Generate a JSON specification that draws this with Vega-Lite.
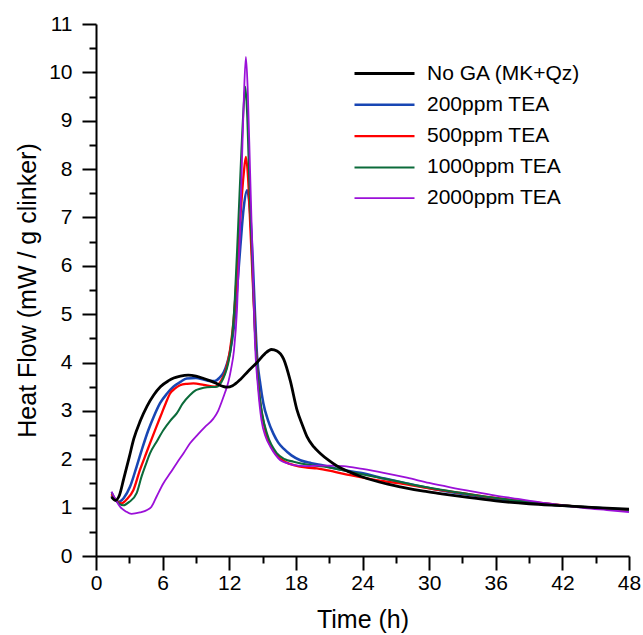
{
  "$schema": "https://vega.github.io/schema/vega-lite/v6.json",
  "autosize": "none",
  "padding": {"left": 96, "top": 24, "right": 14, "bottom": 79},
  "width": 533,
  "height": 532,
  "background": "white",
  "config": {
    "font": "Liberation Sans",
    "view": {"stroke": null},
    "axis": {"domainColor": "black", "domainWidth": 2, "tickColor": "black", "tickWidth": 2, "labelColor": "black", "titleColor": "black", "labelFont": "Liberation Sans", "titleFont": "Liberation Sans", "labelFontSize": 21, "titleFontSize": 25, "titleFontWeight": "normal", "grid": false}
  },
  "data": {"values": [
    {"s":"200ppm TEA","t":1.4,"v":1.25},{"s":"200ppm TEA","t":2.0,"v":1.12},{"s":"200ppm TEA","t":2.5,"v":1.2},{"s":"200ppm TEA","t":3.06,"v":1.43},{"s":"200ppm TEA","t":3.66,"v":1.85},{"s":"200ppm TEA","t":4.2,"v":2.25},{"s":"200ppm TEA","t":4.71,"v":2.6},{"s":"200ppm TEA","t":5.2,"v":2.88},{"s":"200ppm TEA","t":5.77,"v":3.16},{"s":"200ppm TEA","t":6.4,"v":3.36},{"s":"200ppm TEA","t":6.97,"v":3.5},{"s":"200ppm TEA","t":7.6,"v":3.6},{"s":"200ppm TEA","t":8.17,"v":3.67},{"s":"200ppm TEA","t":9.0,"v":3.68},{"s":"200ppm TEA","t":9.67,"v":3.65},{"s":"200ppm TEA","t":10.2,"v":3.62},{"s":"200ppm TEA","t":10.7,"v":3.62},{"s":"200ppm TEA","t":11.1,"v":3.68},{"s":"200ppm TEA","t":11.5,"v":3.8},{"s":"200ppm TEA","t":11.8,"v":3.98},{"s":"200ppm TEA","t":12.07,"v":4.22},{"s":"200ppm TEA","t":12.4,"v":4.7},{"s":"200ppm TEA","t":12.7,"v":5.5},{"s":"200ppm TEA","t":13.0,"v":6.4},{"s":"200ppm TEA","t":13.3,"v":7.2},{"s":"200ppm TEA","t":13.6,"v":7.56},{"s":"200ppm TEA","t":13.85,"v":7.2},{"s":"200ppm TEA","t":14.1,"v":6.2},{"s":"200ppm TEA","t":14.3,"v":5.1},{"s":"200ppm TEA","t":14.5,"v":4.15},{"s":"200ppm TEA","t":14.8,"v":3.55},{"s":"200ppm TEA","t":15.07,"v":3.16},{"s":"200ppm TEA","t":15.5,"v":2.8},{"s":"200ppm TEA","t":15.97,"v":2.53},{"s":"200ppm TEA","t":16.4,"v":2.35},{"s":"200ppm TEA","t":16.9,"v":2.22},{"s":"200ppm TEA","t":17.6,"v":2.08},{"s":"200ppm TEA","t":18.4,"v":1.98},{"s":"200ppm TEA","t":19.4,"v":1.92},{"s":"200ppm TEA","t":20.5,"v":1.87},{"s":"200ppm TEA","t":22.0,"v":1.79},{"s":"200ppm TEA","t":23.8,"v":1.72},{"s":"200ppm TEA","t":26.0,"v":1.6},{"s":"200ppm TEA","t":28.0,"v":1.5},{"s":"200ppm TEA","t":31.0,"v":1.36},{"s":"200ppm TEA","t":34.0,"v":1.25},{"s":"200ppm TEA","t":37.0,"v":1.15},{"s":"200ppm TEA","t":40.0,"v":1.08},{"s":"200ppm TEA","t":44.0,"v":1.01},{"s":"200ppm TEA","t":48.0,"v":0.96},

    {"s":"500ppm TEA","t":1.4,"v":1.28},{"s":"500ppm TEA","t":1.8,"v":1.15},{"s":"500ppm TEA","t":2.3,"v":1.09},{"s":"500ppm TEA","t":2.8,"v":1.18},{"s":"500ppm TEA","t":3.36,"v":1.36},{"s":"500ppm TEA","t":3.96,"v":1.78},{"s":"500ppm TEA","t":4.4,"v":2.05},{"s":"500ppm TEA","t":4.86,"v":2.33},{"s":"500ppm TEA","t":5.4,"v":2.65},{"s":"500ppm TEA","t":5.92,"v":2.95},{"s":"500ppm TEA","t":6.3,"v":3.17},{"s":"500ppm TEA","t":6.67,"v":3.36},{"s":"500ppm TEA","t":7.1,"v":3.46},{"s":"500ppm TEA","t":7.57,"v":3.53},{"s":"500ppm TEA","t":8.2,"v":3.56},{"s":"500ppm TEA","t":8.77,"v":3.57},{"s":"500ppm TEA","t":9.7,"v":3.54},{"s":"500ppm TEA","t":10.7,"v":3.5},{"s":"500ppm TEA","t":11.3,"v":3.64},{"s":"500ppm TEA","t":11.7,"v":3.85},{"s":"500ppm TEA","t":12.07,"v":4.26},{"s":"500ppm TEA","t":12.4,"v":4.9},{"s":"500ppm TEA","t":12.7,"v":5.9},{"s":"500ppm TEA","t":13.0,"v":7.0},{"s":"500ppm TEA","t":13.3,"v":7.9},{"s":"500ppm TEA","t":13.5,"v":8.25},{"s":"500ppm TEA","t":13.7,"v":7.8},{"s":"500ppm TEA","t":13.9,"v":6.8},{"s":"500ppm TEA","t":14.15,"v":5.5},{"s":"500ppm TEA","t":14.4,"v":4.3},{"s":"500ppm TEA","t":14.77,"v":3.2},{"s":"500ppm TEA","t":15.1,"v":2.75},{"s":"500ppm TEA","t":15.5,"v":2.4},{"s":"500ppm TEA","t":16.0,"v":2.18},{"s":"500ppm TEA","t":16.4,"v":2.05},{"s":"500ppm TEA","t":17.1,"v":1.94},{"s":"500ppm TEA","t":17.8,"v":1.88},{"s":"500ppm TEA","t":19.0,"v":1.83},{"s":"500ppm TEA","t":19.9,"v":1.81},{"s":"500ppm TEA","t":21.5,"v":1.74},{"s":"500ppm TEA","t":22.9,"v":1.67},{"s":"500ppm TEA","t":25.0,"v":1.58},{"s":"500ppm TEA","t":27.4,"v":1.5},{"s":"500ppm TEA","t":30.0,"v":1.4},{"s":"500ppm TEA","t":33.0,"v":1.3},{"s":"500ppm TEA","t":36.0,"v":1.2},{"s":"500ppm TEA","t":40.0,"v":1.1},{"s":"500ppm TEA","t":44.0,"v":1.01},{"s":"500ppm TEA","t":48.0,"v":0.95},

    {"s":"1000ppm TEA","t":1.4,"v":1.32},{"s":"1000ppm TEA","t":1.8,"v":1.15},{"s":"1000ppm TEA","t":2.46,"v":1.05},{"s":"1000ppm TEA","t":3.0,"v":1.12},{"s":"1000ppm TEA","t":3.66,"v":1.3},{"s":"1000ppm TEA","t":4.1,"v":1.64},{"s":"1000ppm TEA","t":4.5,"v":1.9},{"s":"1000ppm TEA","t":4.86,"v":2.12},{"s":"1000ppm TEA","t":5.5,"v":2.38},{"s":"1000ppm TEA","t":6.06,"v":2.6},{"s":"1000ppm TEA","t":6.7,"v":2.8},{"s":"1000ppm TEA","t":7.27,"v":2.95},{"s":"1000ppm TEA","t":7.8,"v":3.15},{"s":"1000ppm TEA","t":8.47,"v":3.33},{"s":"1000ppm TEA","t":9.0,"v":3.43},{"s":"1000ppm TEA","t":9.37,"v":3.46},{"s":"1000ppm TEA","t":10.0,"v":3.49},{"s":"1000ppm TEA","t":10.87,"v":3.5},{"s":"1000ppm TEA","t":11.3,"v":3.6},{"s":"1000ppm TEA","t":11.6,"v":3.75},{"s":"1000ppm TEA","t":11.9,"v":3.98},{"s":"1000ppm TEA","t":12.2,"v":4.4},{"s":"1000ppm TEA","t":12.5,"v":5.3},{"s":"1000ppm TEA","t":12.8,"v":6.8},{"s":"1000ppm TEA","t":13.1,"v":8.4},{"s":"1000ppm TEA","t":13.3,"v":9.3},{"s":"1000ppm TEA","t":13.45,"v":9.7},{"s":"1000ppm TEA","t":13.6,"v":9.2},{"s":"1000ppm TEA","t":13.8,"v":7.8},{"s":"1000ppm TEA","t":14.05,"v":6.2},{"s":"1000ppm TEA","t":14.3,"v":4.7},{"s":"1000ppm TEA","t":14.6,"v":3.6},{"s":"1000ppm TEA","t":15.0,"v":2.9},{"s":"1000ppm TEA","t":15.4,"v":2.53},{"s":"1000ppm TEA","t":16.3,"v":2.12},{"s":"1000ppm TEA","t":17.0,"v":2.0},{"s":"1000ppm TEA","t":17.8,"v":1.95},{"s":"1000ppm TEA","t":19.0,"v":1.89},{"s":"1000ppm TEA","t":20.5,"v":1.85},{"s":"1000ppm TEA","t":22.5,"v":1.76},{"s":"1000ppm TEA","t":24.4,"v":1.67},{"s":"1000ppm TEA","t":27.0,"v":1.55},{"s":"1000ppm TEA","t":30.0,"v":1.41},{"s":"1000ppm TEA","t":31.9,"v":1.34},{"s":"1000ppm TEA","t":35.0,"v":1.23},{"s":"1000ppm TEA","t":38.0,"v":1.14},{"s":"1000ppm TEA","t":42.0,"v":1.05},{"s":"1000ppm TEA","t":45.0,"v":1.0},{"s":"1000ppm TEA","t":48.0,"v":0.95},

    {"s":"2000ppm TEA","t":1.4,"v":1.33},{"s":"2000ppm TEA","t":2.16,"v":1.02},{"s":"2000ppm TEA","t":2.7,"v":0.92},{"s":"2000ppm TEA","t":3.2,"v":0.87},{"s":"2000ppm TEA","t":3.96,"v":0.9},{"s":"2000ppm TEA","t":4.6,"v":0.95},{"s":"2000ppm TEA","t":5.0,"v":1.02},{"s":"2000ppm TEA","t":5.46,"v":1.23},{"s":"2000ppm TEA","t":6.06,"v":1.5},{"s":"2000ppm TEA","t":6.7,"v":1.72},{"s":"2000ppm TEA","t":7.27,"v":1.92},{"s":"2000ppm TEA","t":7.9,"v":2.13},{"s":"2000ppm TEA","t":8.47,"v":2.33},{"s":"2000ppm TEA","t":9.2,"v":2.52},{"s":"2000ppm TEA","t":9.82,"v":2.67},{"s":"2000ppm TEA","t":10.57,"v":2.84},{"s":"2000ppm TEA","t":11.0,"v":3.0},{"s":"2000ppm TEA","t":11.32,"v":3.19},{"s":"2000ppm TEA","t":11.65,"v":3.4},{"s":"2000ppm TEA","t":11.92,"v":3.6},{"s":"2000ppm TEA","t":12.15,"v":3.85},{"s":"2000ppm TEA","t":12.43,"v":4.26},{"s":"2000ppm TEA","t":12.7,"v":5.1},{"s":"2000ppm TEA","t":12.95,"v":6.6},{"s":"2000ppm TEA","t":13.15,"v":8.2},{"s":"2000ppm TEA","t":13.32,"v":9.5},{"s":"2000ppm TEA","t":13.5,"v":10.32},{"s":"2000ppm TEA","t":13.67,"v":9.6},{"s":"2000ppm TEA","t":13.87,"v":8.0},{"s":"2000ppm TEA","t":14.07,"v":6.4},{"s":"2000ppm TEA","t":14.3,"v":4.5},{"s":"2000ppm TEA","t":14.6,"v":3.45},{"s":"2000ppm TEA","t":14.9,"v":2.81},{"s":"2000ppm TEA","t":15.3,"v":2.45},{"s":"2000ppm TEA","t":15.7,"v":2.26},{"s":"2000ppm TEA","t":16.2,"v":2.08},{"s":"2000ppm TEA","t":16.6,"v":1.98},{"s":"2000ppm TEA","t":17.2,"v":1.92},{"s":"2000ppm TEA","t":17.8,"v":1.88},{"s":"2000ppm TEA","t":19.0,"v":1.86},{"s":"2000ppm TEA","t":19.9,"v":1.87},{"s":"2000ppm TEA","t":21.0,"v":1.87},{"s":"2000ppm TEA","t":22.3,"v":1.86},{"s":"2000ppm TEA","t":24.0,"v":1.8},{"s":"2000ppm TEA","t":25.9,"v":1.72},{"s":"2000ppm TEA","t":28.0,"v":1.62},{"s":"2000ppm TEA","t":30.0,"v":1.51},{"s":"2000ppm TEA","t":31.9,"v":1.42},{"s":"2000ppm TEA","t":34.0,"v":1.33},{"s":"2000ppm TEA","t":36.0,"v":1.25},{"s":"2000ppm TEA","t":38.0,"v":1.18},{"s":"2000ppm TEA","t":40.0,"v":1.11},{"s":"2000ppm TEA","t":42.0,"v":1.05},{"s":"2000ppm TEA","t":44.0,"v":0.99},{"s":"2000ppm TEA","t":46.0,"v":0.95},{"s":"2000ppm TEA","t":48.0,"v":0.91},

    {"s":"No GA (MK+Qz)","t":1.4,"v":1.22},{"s":"No GA (MK+Qz)","t":1.75,"v":1.15},{"s":"No GA (MK+Qz)","t":2.1,"v":1.25},{"s":"No GA (MK+Qz)","t":2.5,"v":1.6},{"s":"No GA (MK+Qz)","t":3.0,"v":2.05},{"s":"No GA (MK+Qz)","t":3.4,"v":2.42},{"s":"No GA (MK+Qz)","t":4.0,"v":2.8},{"s":"No GA (MK+Qz)","t":4.6,"v":3.1},{"s":"No GA (MK+Qz)","t":5.2,"v":3.33},{"s":"No GA (MK+Qz)","t":5.8,"v":3.5},{"s":"No GA (MK+Qz)","t":6.5,"v":3.62},{"s":"No GA (MK+Qz)","t":7.0,"v":3.68},{"s":"No GA (MK+Qz)","t":7.6,"v":3.72},{"s":"No GA (MK+Qz)","t":8.3,"v":3.74},{"s":"No GA (MK+Qz)","t":9.0,"v":3.72},{"s":"No GA (MK+Qz)","t":9.7,"v":3.67},{"s":"No GA (MK+Qz)","t":10.3,"v":3.62},{"s":"No GA (MK+Qz)","t":10.9,"v":3.56},{"s":"No GA (MK+Qz)","t":11.4,"v":3.51},{"s":"No GA (MK+Qz)","t":11.8,"v":3.49},{"s":"No GA (MK+Qz)","t":12.3,"v":3.52},{"s":"No GA (MK+Qz)","t":13.0,"v":3.65},{"s":"No GA (MK+Qz)","t":13.7,"v":3.82},{"s":"No GA (MK+Qz)","t":14.5,"v":4.0},{"s":"No GA (MK+Qz)","t":15.2,"v":4.18},{"s":"No GA (MK+Qz)","t":15.8,"v":4.27},{"s":"No GA (MK+Qz)","t":16.3,"v":4.24},{"s":"No GA (MK+Qz)","t":16.9,"v":4.07},{"s":"No GA (MK+Qz)","t":17.5,"v":3.62},{"s":"No GA (MK+Qz)","t":18.1,"v":3.02},{"s":"No GA (MK+Qz)","t":18.6,"v":2.7},{"s":"No GA (MK+Qz)","t":19.0,"v":2.47},{"s":"No GA (MK+Qz)","t":19.6,"v":2.26},{"s":"No GA (MK+Qz)","t":20.2,"v":2.12},{"s":"No GA (MK+Qz)","t":21.0,"v":1.97},{"s":"No GA (MK+Qz)","t":21.7,"v":1.86},{"s":"No GA (MK+Qz)","t":22.7,"v":1.75},{"s":"No GA (MK+Qz)","t":23.8,"v":1.65},{"s":"No GA (MK+Qz)","t":25.5,"v":1.53},{"s":"No GA (MK+Qz)","t":27.4,"v":1.43},{"s":"No GA (MK+Qz)","t":29.5,"v":1.34},{"s":"No GA (MK+Qz)","t":31.0,"v":1.29},{"s":"No GA (MK+Qz)","t":33.5,"v":1.21},{"s":"No GA (MK+Qz)","t":36.0,"v":1.14},{"s":"No GA (MK+Qz)","t":39.0,"v":1.08},{"s":"No GA (MK+Qz)","t":42.0,"v":1.04},{"s":"No GA (MK+Qz)","t":45.0,"v":1.0},{"s":"No GA (MK+Qz)","t":48.0,"v":0.97}
  ]},
  "mark": {"type": "line", "interpolate": "monotone", "clip": false},
  "encoding": {
    "x": {"field": "t", "type": "quantitative", "scale": {"domain": [0, 48], "nice": false, "zero": false},
      "axis": {"title": "Time (h)", "values": [0,3,6,9,12,15,18,21,24,27,30,33,36,39,42,45,48],
        "labelExpr": "datum.value % 6 === 0 ? format(datum.value, 'd') : ''",
        "tickSize": {"condition": {"test": "datum.value % 6 === 0", "value": 14}, "value": 7},
        "labelPadding": 2, "titlePadding": 14, "labelFlush": false, "labelOverlap": false}},
    "y": {"field": "v", "type": "quantitative", "scale": {"domain": [0, 11], "nice": false},
      "axis": {"title": "Heat Flow (mW / g clinker)", "values": [0,0.5,1,1.5,2,2.5,3,3.5,4,4.5,5,5.5,6,6.5,7,7.5,8,8.5,9,9.5,10,10.5,11],
        "labelExpr": "datum.value % 1 === 0 ? format(datum.value, 'd') : ''",
        "tickSize": {"condition": {"test": "datum.value % 1 === 0", "value": 14}, "value": 7},
        "labelPadding": 10, "titlePadding": 8, "labelFlush": false, "labelOverlap": false}},
    "color": {"field": "s", "type": "nominal",
      "scale": {"domain": ["No GA (MK+Qz)", "200ppm TEA", "500ppm TEA", "1000ppm TEA", "2000ppm TEA"],
                "range": ["#000000", "#1846b4", "#ff0000", "#0b6b3a", "#9b10d8"]},
      "legend": {"title": null, "orient": "none", "legendX": 272, "legendY": 33, "symbolType": "M-2,0H2", "symbolSize": 900, "symbolStrokeWidth": 2, "labelFontSize": 21, "labelFont": "Liberation Sans", "labelColor": "black", "rowPadding": 4.3, "labelOffset": 26, "padding": 0}},
    "strokeWidth": {"field": "s", "type": "ordinal",
      "scale": {"domain": ["No GA (MK+Qz)", "200ppm TEA", "500ppm TEA", "1000ppm TEA", "2000ppm TEA"], "range": [2.8, 1.8, 1.8, 1.8, 1.8]},
      "legend": null}
  }
}
